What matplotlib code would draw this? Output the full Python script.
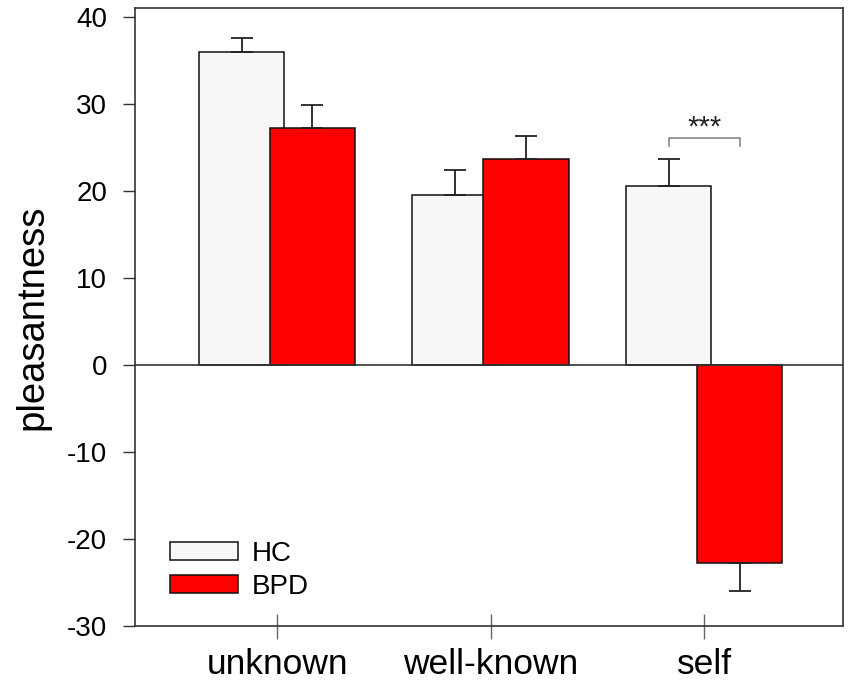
import numpy as np
from matplotlib import pyplot as plt

plt.rcParams['font.family'] = ['Liberation Sans', 'DejaVu Sans']
plt.rcParams['axes.unicode_minus'] = False

categories = ['unknown', 'well-known', 'self']
hc_mean = [36.0, 19.5, 20.6]
hc_err = [1.6, 2.9, 3.0]
bpd_mean = [27.2, 23.6, -22.8]
bpd_err = [2.7, 2.7, 3.2]
yticks = [-30, -20, -10, 0, 10, 20, 30, 40]

x = np.arange(len(categories))
width = 0.40
off = 0.166

fig = plt.figure(figsize=(8.51, 6.87), dpi=100)
ax = fig.add_axes([135 / 851, 61 / 687, 708 / 851, 618 / 687])

# one-sided error bars (away from zero)
def err_dir(mean, err):
    lo = [e if m < 0 else 0 for m, e in zip(mean, err)]
    hi = [e if m >= 0 else 0 for m, e in zip(mean, err)]
    return [lo, hi]

ekw = dict(ecolor='#222222', elinewidth=1.3, capsize=8, capthick=1.3)
ax.bar(x - off, hc_mean, width, color='#f7f7f7', edgecolor='#111111', linewidth=1.1,
       yerr=err_dir(hc_mean, hc_err), error_kw=ekw, label='HC', zorder=2)
ax.bar(x + off, bpd_mean, width, color='#ff0000', edgecolor='#111111', linewidth=1.1,
       yerr=err_dir(bpd_mean, bpd_err), error_kw=ekw, label='BPD', zorder=3)

ax.axhline(0, color='#333333', linewidth=1.2, zorder=4)

# significance bracket for "self"
x1, x2 = x[2] - off, x[2] + off
ax.plot([x1, x1, x2, x2], [25.2, 26.05, 26.05, 25.2], color='#888888', linewidth=1.2)
ax.text(x[2], 27.3, '***', ha='center', va='center', fontsize=21, color='#222222')

ax.set_xlim(-0.665, 2.65)
ax.set_ylim(-30, 41)
ax.set_yticks(yticks)
ax.set_xticks(x)
ax.set_xticklabels(categories, fontsize=25.5)
ax.tick_params(axis='y', labelsize=20, direction='out', length=9, width=1.0,
               color='#333333', pad=11)
ax.tick_params(axis='x', direction='inout', length=18, width=1.0, color='#666666', pad=7)
ax.set_ylabel('pleasantness', fontsize=27.5, labelpad=12)

for s in ax.spines.values():
    s.set_color('#333333')
    s.set_linewidth(1.2)

ax.legend(loc='lower left', bbox_to_anchor=(0.03, 0.02), frameon=False, fontsize=20,
          handlelength=2.45, handleheight=0.65, handletextpad=0.5, labelspacing=0.25,
          borderpad=0)

fig.savefig('out.png', dpi=100)
